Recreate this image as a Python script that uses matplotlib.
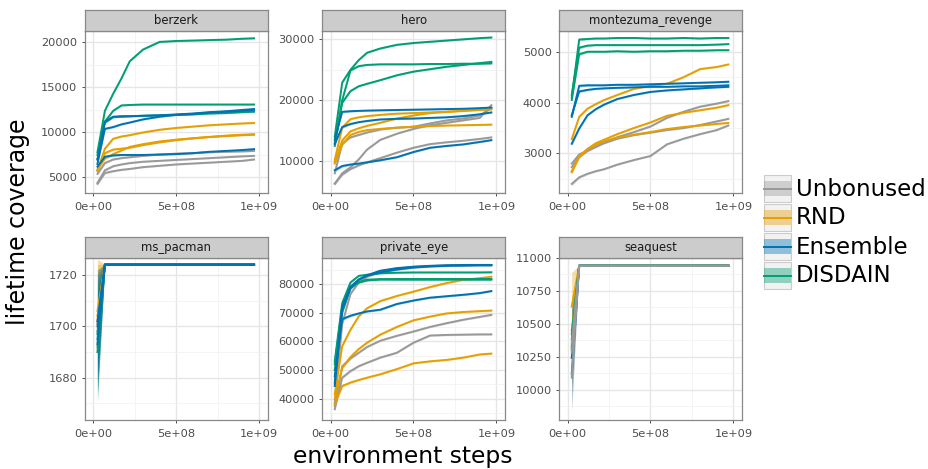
import numpy as np
import matplotlib
matplotlib.use("Agg")
import matplotlib.pyplot as plt
from matplotlib.ticker import MultipleLocator, AutoMinorLocator, FuncFormatter
from matplotlib.patches import Rectangle

# environment steps at which coverage was logged
steps = np.array([0.025, 0.07, 0.12, 0.17, 0.22, 0.3, 0.4, 0.5, 0.6, 0.7, 0.8, 0.9, 0.97]) * 1e9

games = ["berzerk", "hero", "montezuma_revenge", "ms_pacman", "private_eye", "seaquest"]
methods = ["Unbonused", "RND", "Ensemble", "DISDAIN"]
colors = ["#999999", "#E69F00", "#0072B2", "#009E73"]

# three seeds per method, per game
berzerk_unb = [[5400, 6600, 7000, 7150, 7250, 7400, 7550, 7650, 7700, 7800, 7850, 7900, 7950],
               [4400, 5800, 6250, 6450, 6600, 6750, 6850, 6950, 7050, 7150, 7250, 7350, 7400],
               [4300, 5500, 5700, 5850, 5950, 6150, 6300, 6450, 6550, 6650, 6750, 6850, 7000]]
berzerk_rnd = [[5800, 8200, 9300, 9550, 9700, 10000, 10300, 10500, 10650, 10800, 10900, 11000, 11050],
               [5700, 7700, 8100, 8200, 8300, 8600, 8900, 9150, 9350, 9500, 9650, 9750, 9800],
               [5900, 7100, 7600, 8000, 8400, 8700, 9000, 9200, 9350, 9500, 9600, 9700, 9750]]
berzerk_ens = [[7000, 11200, 11750, 11800, 11800, 11850, 11900, 12000, 12100, 12250, 12350, 12500, 12600],
               [6500, 10400, 10600, 10900, 11100, 11450, 11750, 11950, 12050, 12200, 12300, 12400, 12500],
               [6200, 7300, 7450, 7500, 7500, 7500, 7550, 7600, 7700, 7850, 7950, 8050, 8150]]
berzerk_dis = [[7800, 12400, 14300, 16000, 17900, 19200, 20050, 20150, 20200, 20250, 20300, 20400, 20450],
               [7500, 11200, 12400, 13000, 13050, 13100, 13100, 13100, 13100, 13100, 13100, 13100, 13100],
               [7000, 11100, 11700, 11750, 11800, 11850, 11900, 11950, 12000, 12100, 12150, 12250, 12300]]

hero_unb = [[6300, 8000, 9000, 10300, 11900, 13500, 14500, 15300, 15900, 16300, 16700, 17100, 19200],
            [6300, 7800, 8700, 9300, 9800, 10500, 11400, 12200, 12800, 13100, 13350, 13650, 13900],
            [8000, 12900, 13900, 14300, 14700, 15200, 15500, 15650, 16200, 16700, 17000, 17500, 18700]]
hero_rnd = [[10200, 15500, 16900, 17200, 17400, 17600, 17800, 17900, 18000, 18100, 18250, 18400, 18500],
            [9800, 13400, 14900, 15400, 15800, 16300, 17000, 17500, 17900, 18100, 18300, 18500, 18600],
            [9600, 12700, 14300, 14800, 15100, 15300, 15500, 15650, 15750, 15850, 15900, 15950, 16000]]
hero_ens = [[13500, 18100, 18200, 18250, 18300, 18350, 18400, 18450, 18500, 18550, 18600, 18700, 18800],
            [12800, 15600, 16100, 16400, 16600, 16850, 16950, 17000, 17100, 17200, 17400, 17700, 18000],
            [8500, 9200, 9450, 9600, 9800, 10150, 10650, 11500, 12200, 12500, 12750, 13150, 13450]]
hero_dis = [[14000, 22900, 25000, 26600, 27800, 28500, 29100, 29400, 29600, 29800, 30000, 30200, 30300],
            [13000, 20000, 24900, 25600, 25800, 25900, 25900, 25900, 25950, 25950, 26000, 26000, 26050],
            [12500, 19600, 21500, 22300, 22700, 23300, 24100, 24700, 25100, 25500, 25800, 26100, 26300]]

montezuma_unb = [[2800, 2980, 3060, 3130, 3220, 3320, 3420, 3530, 3700, 3820, 3920, 3980, 4030],
                 [2730, 2930, 3050, 3130, 3200, 3290, 3360, 3410, 3460, 3500, 3560, 3630, 3680],
                 [2400, 2530, 2600, 2650, 2690, 2780, 2870, 2950, 3180, 3290, 3380, 3460, 3550]]
montezuma_rnd = [[3280, 3720, 3880, 3970, 4050, 4150, 4270, 4330, 4370, 4500, 4660, 4700, 4750],
                 [2630, 2930, 3090, 3200, 3270, 3380, 3500, 3610, 3740, 3800, 3850, 3900, 3950],
                 [2650, 2950, 3080, 3170, 3240, 3310, 3370, 3420, 3480, 3520, 3550, 3580, 3600]]
montezuma_ens = [[3720, 4330, 4340, 4340, 4340, 4350, 4350, 4360, 4370, 4380, 4390, 4400, 4410],
                 [3750, 4220, 4250, 4270, 4280, 4290, 4300, 4310, 4310, 4320, 4320, 4330, 4340],
                 [3190, 3490, 3750, 3870, 3960, 4070, 4150, 4210, 4240, 4260, 4280, 4300, 4310]]
montezuma_dis = [[4100, 5240, 5250, 5260, 5260, 5270, 5270, 5260, 5260, 5270, 5260, 5270, 5270],
                 [4150, 5080, 5120, 5130, 5130, 5130, 5130, 5130, 5130, 5130, 5130, 5140, 5150],
                 [4050, 4950, 5000, 5000, 5000, 5010, 5000, 5010, 5010, 5020, 5020, 5030, 5030]]

ms_pacman_unb = [[1692] + [1724] * 12, [1698] + [1724] * 12, [1702] + [1724] * 12]
ms_pacman_rnd = [[1704] + [1724] * 12, [1706] + [1724] * 12, [1701] + [1724] * 12]
ms_pacman_ens = [[1700] + [1724] * 12, [1693] + [1724] * 12, [1702] + [1724] * 12]
ms_pacman_dis = [[1690] + [1724] * 12, [1695] + [1724] * 12, [1697] + [1724] * 12]

private_eye_unb = [[37400, 51300, 54000, 56000, 58000, 60200, 61900, 63400, 65000, 66300, 67500, 68500, 69200],
                   [36300, 47300, 49600, 51300, 52500, 54300, 56000, 59500, 62000, 62200, 62300, 62400, 62400],
                   [38500, 66000, 76500, 80500, 82500, 84300, 85300, 85900, 86200, 86400, 86500, 86600, 86600]]
private_eye_rnd = [[41500, 58300, 64000, 68700, 71500, 74000, 75800, 77300, 78900, 80300, 81400, 82000, 82500],
                   [39800, 50700, 54500, 57300, 59500, 62300, 65000, 67300, 68600, 69700, 70200, 70500, 70700],
                   [38000, 44400, 45600, 46500, 47300, 48500, 50300, 52300, 53000, 53500, 54300, 55400, 55700]]
private_eye_ens = [[44400, 71000, 78500, 81500, 83000, 84600, 85500, 86000, 86300, 86500, 86600, 86600, 86600],
                   [45500, 72000, 79000, 81500, 82800, 84000, 85000, 85700, 86100, 86300, 86400, 86500, 86500],
                   [47800, 67700, 68900, 69700, 70400, 71000, 73000, 74200, 75200, 75700, 76200, 76800, 77500]]
private_eye_dis = [[53000, 73300, 80500, 82800, 83200, 83700, 83900, 84000, 84000, 84000, 84000, 84000, 84050],
                   [52000, 72000, 79000, 80500, 81200, 81600, 81700, 81700, 81700, 81700, 81700, 81700, 81700],
                   [50000, 70000, 78500, 80600, 81500, 81600, 81500, 81500, 81500, 81500, 81500, 81500, 81500]]

seaquest_unb = [[10090] + [10940] * 12, [10280] + [10940] * 12, [10350] + [10940] * 12]
seaquest_rnd = [[10450] + [10940] * 12, [10630] + [10940] * 12, [10300] + [10940] * 12]
seaquest_ens = [[10120] + [10940] * 12, [10240] + [10940] * 12, [10310] + [10940] * 12]
seaquest_dis = [[10380] + [10940] * 12, [10420] + [10940] * 12, [10330] + [10940] * 12]

# half width of the confidence ribbon
band_berzerk = [150, 120, 100, 90, 80, 80, 80, 80, 80, 80, 80, 80, 80]
band_hero = [250, 200, 150, 120, 120, 120, 120, 120, 120, 120, 120, 120, 120]
band_montezuma = [40, 25, 20, 15, 15, 15, 15, 15, 15, 15, 15, 15, 15]
band_ms_pacman = [20, 0.2, 0.2, 0.2, 0.2, 0.2, 0.2, 0.2, 0.2, 0.2, 0.2, 0.2, 0.2]
band_private_eye = [800, 500, 400, 300, 300, 300, 300, 300, 300, 300, 300, 300, 300]
band_seaquest = [260, 3, 3, 3, 3, 3, 3, 3, 3, 3, 3, 3, 3]

panel_data = {
    "berzerk": [berzerk_unb, berzerk_rnd, berzerk_ens, berzerk_dis],
    "hero": [hero_unb, hero_rnd, hero_ens, hero_dis],
    "montezuma_revenge": [montezuma_unb, montezuma_rnd, montezuma_ens, montezuma_dis],
    "ms_pacman": [ms_pacman_unb, ms_pacman_rnd, ms_pacman_ens, ms_pacman_dis],
    "private_eye": [private_eye_unb, private_eye_rnd, private_eye_ens, private_eye_dis],
    "seaquest": [seaquest_unb, seaquest_rnd, seaquest_ens, seaquest_dis],
}
bands = {"berzerk": band_berzerk, "hero": band_hero, "montezuma_revenge": band_montezuma,
         "ms_pacman": band_ms_pacman, "private_eye": band_private_eye, "seaquest": band_seaquest}
ylims = {"berzerk": (3256, 21290), "hero": (4736, 31415), "montezuma_revenge": (2218, 5413),
         "ms_pacman": (1663.5, 1726.7), "private_eye": (32470, 89126), "seaquest": (9767, 11001)}
ysteps = {"berzerk": 5000, "hero": 10000, "montezuma_revenge": 1000,
          "ms_pacman": 20, "private_eye": 10000, "seaquest": 250}

W, H = 929, 469
fig = plt.figure(figsize=(W / 100, H / 100), dpi=100)


def rect(x, y, w, h):
    return [x / W, 1 - (y + h) / H, w / W, h / H]


col_left = [85, 322.3, 559.3]
row_top = [30.7, 257.7]
pw, ph, sh = 183, 162.5, 20.5

for k, g in enumerate(games):
    r, c = divmod(k, 3)
    ax = fig.add_axes(rect(col_left[c], row_top[r], pw, ph))
    ax.set_facecolor("white")
    runs = panel_data[g]
    b = np.array(bands[g])
    order = [1, 2, 3, 0] if g == "seaquest" else [0, 1, 3, 2]
    for m in order:
        for run in runs[m]:
            y = np.array(run, dtype=float)
            ax.fill_between(steps, y - b, y + b, color=colors[m], alpha=0.35, lw=0, zorder=2)
    for m in order:
        for run in runs[m]:
            ax.plot(steps, run, color=colors[m], lw=1.4, zorder=3)
    ax.set_xlim(-0.05e9, 1.054e9)
    ax.set_ylim(*ylims[g])
    ax.xaxis.set_major_locator(MultipleLocator(5e8))
    ax.xaxis.set_minor_locator(AutoMinorLocator(2))
    ax.yaxis.set_major_locator(MultipleLocator(ysteps[g]))
    ax.yaxis.set_minor_locator(AutoMinorLocator(2))
    ax.xaxis.set_major_formatter(FuncFormatter(lambda v, p: "%.0e" % v if v != 0 else "0e+00"))
    ax.yaxis.set_major_formatter(FuncFormatter(lambda v, p: "%g" % v))
    ax.grid(which="major", color="#e6e6e6", lw=1.0, zorder=0)
    ax.grid(which="minor", color="#f2f2f2", lw=0.6, zorder=0)
    ax.set_axisbelow(True)
    ax.tick_params(which="major", length=2.5, width=0.6, color="#333333",
                   labelsize=8.2, labelcolor="#4d4d4d")
    ax.tick_params(axis="x", pad=3.6)
    ax.tick_params(axis="y", pad=3)
    ax.tick_params(which="minor", length=0)
    for s in ax.spines.values():
        s.set_color("#888888")
        s.set_linewidth(0.9)

    sax = fig.add_axes(rect(col_left[c], row_top[r] - sh, pw, sh))
    sax.set_facecolor("#cccccc")
    sax.set_xticks([])
    sax.set_yticks([])
    for s in sax.spines.values():
        s.set_color("#888888")
        s.set_linewidth(0.9)
    sax.text(0.5, 0.48, g, ha="center", va="center", fontsize=8.4, color="#1a1a1a",
             transform=sax.transAxes)

fig.text(18 / W, 1 - 222 / H, "lifetime coverage", rotation=90, ha="center", va="center",
         fontsize=17)
fig.text(403 / W, 1 - 463 / H, "environment steps", ha="center", va="baseline", fontsize=16.8)

# legend
lax = fig.add_axes([0, 0, 1, 1], facecolor="none")
lax.set_xlim(0, W)
lax.set_ylim(H, 0)
lax.axis("off")
for i, (name, col) in enumerate(zip(methods, colors)):
    top = 175 + i * 29
    lax.add_patch(Rectangle((764, top), 27.5, 27.5, facecolor="#f2f2f2", edgecolor="#cccccc", lw=0.8))
    lax.add_patch(Rectangle((764.5, top + 6.5), 26.5, 14.5, facecolor=col, alpha=0.4, lw=0))
    lax.plot([764.5, 791], [top + 13.75, top + 13.75], color=col, lw=1.4)
    lax.text(796, top + 14, name, ha="left", va="center", fontsize=16.5, color="black")

fig.savefig("out.png", dpi=100)
